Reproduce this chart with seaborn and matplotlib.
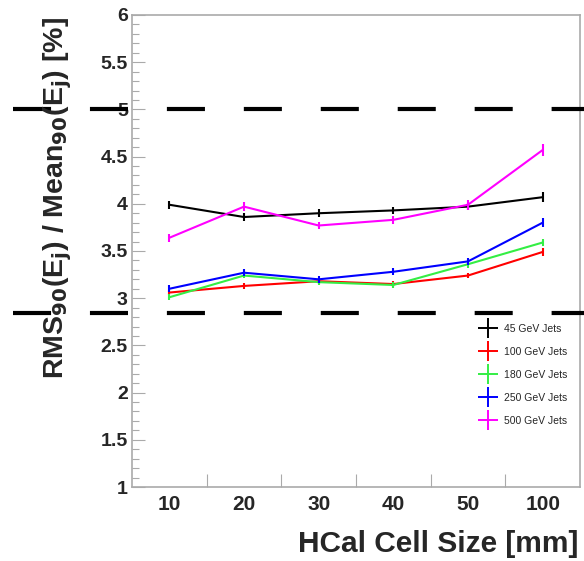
import numpy as np
import pandas as pd
import matplotlib
matplotlib.use("Agg")
import matplotlib.pyplot as plt
from matplotlib.lines import Line2D
from matplotlib.ticker import MultipleLocator, FixedLocator
import seaborn as sns

# ---------------- data ----------------
cell_sizes = ["10", "20", "30", "40", "50", "100"]
series_names = ["45 GeV Jets", "100 GeV Jets", "180 GeV Jets", "250 GeV Jets", "500 GeV Jets"]
res_45 = [3.99, 3.86, 3.90, 3.93, 3.97, 4.07]
res_100 = [3.06, 3.13, 3.18, 3.15, 3.24, 3.49]
res_180 = [3.01, 3.24, 3.17, 3.14, 3.36, 3.59]
res_250 = [3.10, 3.27, 3.20, 3.28, 3.39, 3.80]
res_500 = [3.64, 3.97, 3.77, 3.83, 3.99, 4.57]
err_45 = [0.04, 0.04, 0.04, 0.04, 0.04, 0.05]
err_100 = [0.03, 0.03, 0.03, 0.03, 0.03, 0.045]
err_180 = [0.03, 0.03, 0.03, 0.03, 0.035, 0.042]
err_250 = [0.035, 0.035, 0.035, 0.035, 0.04, 0.05]
err_500 = [0.04, 0.05, 0.04, 0.04, 0.055, 0.067]
colors = ["#000000", "#ff0000", "#33ee44", "#0000ff", "#ff00ff"]
ref_lines = [5.0, 2.84]

values = [res_45, res_100, res_180, res_250, res_500]
errors = [err_45, err_100, err_180, err_250, err_500]

rows = []
for name, vals, errs in zip(series_names, values, errors):
    for i, (v, e) in enumerate(zip(vals, errs)):
        rows.append({"pos": i, "size": cell_sizes[i], "series": name, "res": v, "err": e})
df = pd.DataFrame(rows)

# ---------------- style ----------------
sns.set_style("white")
plt.rcParams["font.family"] = ["Liberation Sans", "DejaVu Sans"]
plt.rcParams["lines.scale_dashes"] = False

W, H = 584, 561
fig = plt.figure(figsize=(W / 100, H / 100), dpi=100)
ax = fig.add_axes([132 / W, 1 - 487 / H, 448 / W, 472 / H])

palette = dict(zip(series_names, colors))
sns.lineplot(data=df, x="pos", y="res", hue="series", palette=palette,
             hue_order=series_names, errorbar=None, lw=1.5, ax=ax, legend=False)
for name in series_names:
    sub = df[df["series"] == name]
    ax.errorbar(sub["pos"], sub["res"], yerr=sub["err"], fmt="none",
                ecolor=palette[name], elinewidth=1.5, capsize=0, zorder=3)

ax.set_xlim(-0.5, len(cell_sizes) - 0.5)
ax.set_ylim(1, 6)

# reference dashed lines, extending across the figure
for yv in ref_lines:
    ax.axhline(yv, xmin=(13 - 132) / 448, xmax=(584 - 132) / 448, color="black",
               lw=3.0, dashes=(27.4, 28.0), clip_on=False, zorder=5)

frame_col = "#aaaaaa"
for s in ax.spines.values():
    s.set_visible(True)
    s.set_color(frame_col)
    s.set_linewidth(1.2)

# x axis: labels at category centres, tick marks at boundaries
ax.xaxis.set_major_locator(FixedLocator(np.arange(len(cell_sizes))))
ax.set_xticklabels(cell_sizes)
ax.xaxis.set_minor_locator(FixedLocator(np.arange(0.5, len(cell_sizes) - 1, 1.0)))
ax.tick_params(axis="x", which="major", length=0, pad=6, labelsize=15)
ax.tick_params(axis="x", which="minor", direction="in", length=9.5, width=0.8,
               color=frame_col, bottom=True)
for lab in ax.get_xticklabels():
    lab.set_fontweight("bold")

# y axis
ax.yaxis.set_major_locator(MultipleLocator(0.5))
ax.yaxis.set_minor_locator(MultipleLocator(0.1))
ax.set_yticks(np.arange(1, 6.01, 0.5))
ax.set_yticklabels(["1", "1.5", "2", "2.5", "3", "3.5", "4", "4.5", "5", "5.5", "6"])
ax.tick_params(axis="y", which="major", direction="in", length=9.5, width=0.8,
               color=frame_col, pad=3, labelsize=14, left=True)
ax.tick_params(axis="y", which="minor", direction="in", length=5, width=0.8,
               color=frame_col, left=True)
for lab in ax.get_yticklabels():
    lab.set_fontweight("bold")
ax.set_xlabel("")
ax.set_ylabel("")

# axis titles
fig.text(578 / W, 1 - 552 / H, "HCal Cell Size [mm]", ha="right", va="baseline",
         fontsize=21.5, fontweight="bold")
fig.text(58 / W, 1 - 198 / H,
         r"RMS$_{\mathbf{90}}$(E$_{\mathbf{j}}$) / Mean$_{\mathbf{90}}$(E$_{\mathbf{j}}$) [%]",
         rotation=90, ha="center", va="center", fontsize=20.5, fontweight="bold")

# legend
handles = [Line2D([], [], color=c, marker="+", markersize=14, markeredgewidth=1.4,
                  linestyle="none") for c in colors]
fig.legend(handles, series_names, loc="upper left",
           bbox_to_anchor=(478 / W, 1 - 324 / H), frameon=False, fontsize=7.5,
           handlelength=2.0, handletextpad=0.45, labelspacing=1.25, borderpad=0,
           borderaxespad=0)

fig.savefig("out.png", dpi=100)
